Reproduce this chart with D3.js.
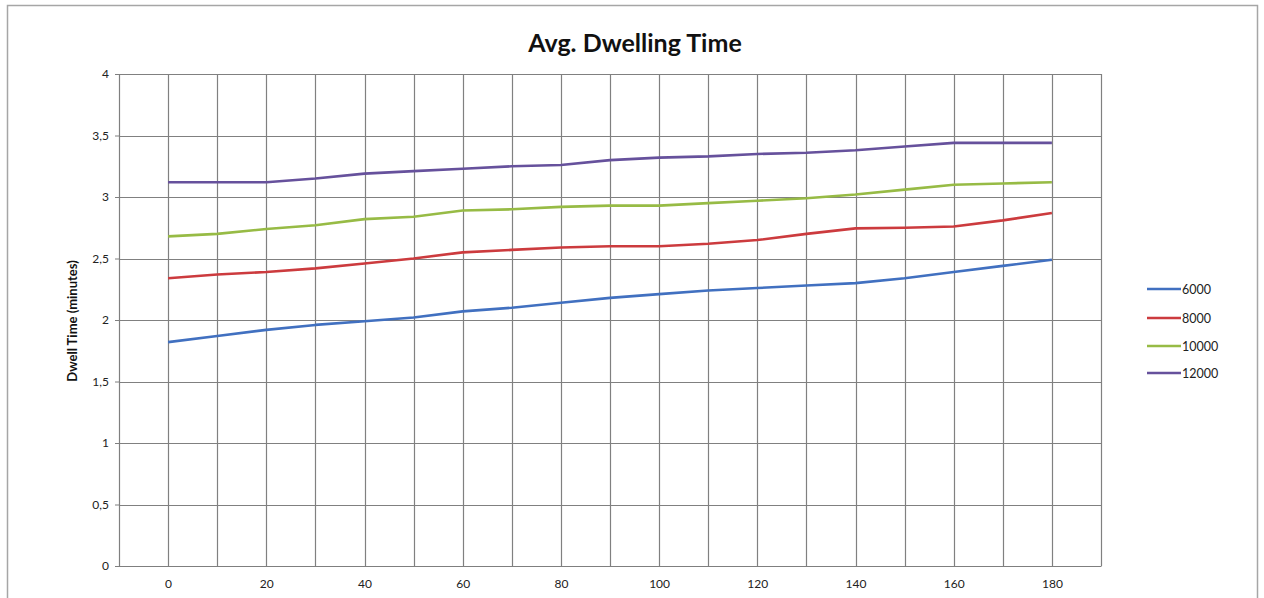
<!DOCTYPE html>
<html>
<head>
<meta charset="utf-8">
<script src="https://cdn.jsdelivr.net/npm/d3@7"></script>
<style>
  html, body { margin: 0; padding: 0; background: #fff; }
  svg { display: block; }
  text { font-family: Lato, "Open Sans", "Liberation Sans", sans-serif; }
</style>
</head>
<body>
<svg id="chart" width="1264" height="598"></svg>
<script>
// ---- data ----
const categories = [0,10,20,30,40,50,60,70,80,90,100,110,120,130,140,150,160,170,180];
const xTickLabels = [0,20,40,60,80,100,120,140,160,180];
const yTickValues = [0,0.5,1,1.5,2,2.5,3,3.5,4];
const seriesNames = ["6000","8000","10000","12000"];
const s6000  = [1.82,1.87,1.92,1.96,1.99,2.02,2.07,2.10,2.14,2.18,2.21,2.24,2.26,2.28,2.30,2.34,2.39,2.44,2.49];
const s8000  = [2.34,2.37,2.39,2.42,2.46,2.50,2.55,2.57,2.59,2.60,2.60,2.62,2.65,2.70,2.745,2.75,2.76,2.81,2.87];
const s10000 = [2.68,2.70,2.74,2.77,2.82,2.84,2.89,2.90,2.92,2.93,2.93,2.95,2.97,2.99,3.02,3.06,3.10,3.11,3.12];
const s12000 = [3.12,3.12,3.12,3.15,3.19,3.21,3.23,3.25,3.26,3.30,3.32,3.33,3.35,3.36,3.38,3.41,3.44,3.44,3.44];
const seriesValues = [s6000, s8000, s10000, s12000];
const seriesColors = ["#4170c0","#cc3b3e","#97bb45","#66519c"];
const chartTitle = "Avg. Dwelling Time";
const yTitle = "Dwell Time (minutes)";

// ---- layout ----
const svg = d3.select("#chart");
const plot = {left: 119, right: 1101, top: 74, bottom: 566};

svg.append("rect").attr("x", 7.5).attr("y", 5.5).attr("width", 1250).attr("height", 600)
  .attr("fill", "#fff").attr("stroke", "#a6a6a6").attr("stroke-width", 1.5);

const x = d3.scaleLinear().domain([-10, 190]).range([plot.left, plot.right]);
const y = d3.scaleLinear().domain([0, 4]).range([plot.bottom, plot.top]);

// gridlines
const gridX = d3.range(-10, 191, 10);
svg.append("g").selectAll("line").data(gridX).join("line")
  .attr("x1", d => Math.round(x(d)) + 0.5).attr("x2", d => Math.round(x(d)) + 0.5)
  .attr("y1", plot.top).attr("y2", plot.bottom)
  .attr("stroke", "#808080").attr("stroke-width", 1.2);
svg.append("g").selectAll("line").data(yTickValues).join("line")
  .attr("x1", plot.left).attr("x2", plot.right)
  .attr("y1", d => Math.round(y(d)) + 0.5).attr("y2", d => Math.round(y(d)) + 0.5)
  .attr("stroke", "#808080").attr("stroke-width", 1.2);

// y axis
const yAxis = d3.axisLeft(y).tickValues(yTickValues).tickSize(4).tickPadding(6)
  .tickFormat(d => String(d).replace(".", ","));
const gy = svg.append("g").attr("transform", `translate(${plot.left},0)`).call(yAxis);
gy.select(".domain").attr("stroke", "#7f7f7f");
gy.selectAll(".tick line").attr("stroke", "#7f7f7f");
gy.selectAll("text").attr("font-size", 12).attr("fill", "#222");

// x axis
const xAxis = d3.axisBottom(x).tickValues(xTickLabels).tickSize(0).tickPadding(13);
const gx = svg.append("g").attr("transform", `translate(0,${plot.bottom})`).call(xAxis);
gx.select(".domain").attr("stroke", "#7f7f7f");
gx.selectAll("text").attr("font-size", 12).attr("fill", "#222");

// lines
const line = d3.line().x((d, i) => x(categories[i])).y(d => y(d));
svg.append("g").selectAll("path").data(seriesValues).join("path")
  .attr("d", d => line(d))
  .attr("fill", "none")
  .attr("stroke", (d, i) => seriesColors[i])
  .attr("stroke-width", 2.6)
  .attr("stroke-linejoin", "round");

// title
svg.append("text").attr("x", 635).attr("y", 52).attr("text-anchor", "middle")
  .attr("font-size", 25).attr("font-weight", "bold").attr("fill", "#111").text(chartTitle);

// y title
svg.append("text").attr("transform", "translate(77,321) rotate(-90)")
  .attr("text-anchor", "middle").attr("font-size", 13).attr("font-weight", "bold")
  .attr("fill", "#111").text(yTitle);

// legend
const legendY = [289, 318, 346, 373];
const lg = svg.append("g").selectAll("g").data(seriesNames).join("g")
  .attr("transform", (d, i) => `translate(1147,${legendY[i]})`);
lg.append("line").attr("x1", 0).attr("x2", 34).attr("y1", 0).attr("y2", 0)
  .attr("stroke", (d, i) => seriesColors[i]).attr("stroke-width", 2.6);
lg.append("text").attr("x", 35).attr("y", 4.5).attr("font-size", 12.5).attr("fill", "#222").text(d => d);
</script>
</body>
</html>
